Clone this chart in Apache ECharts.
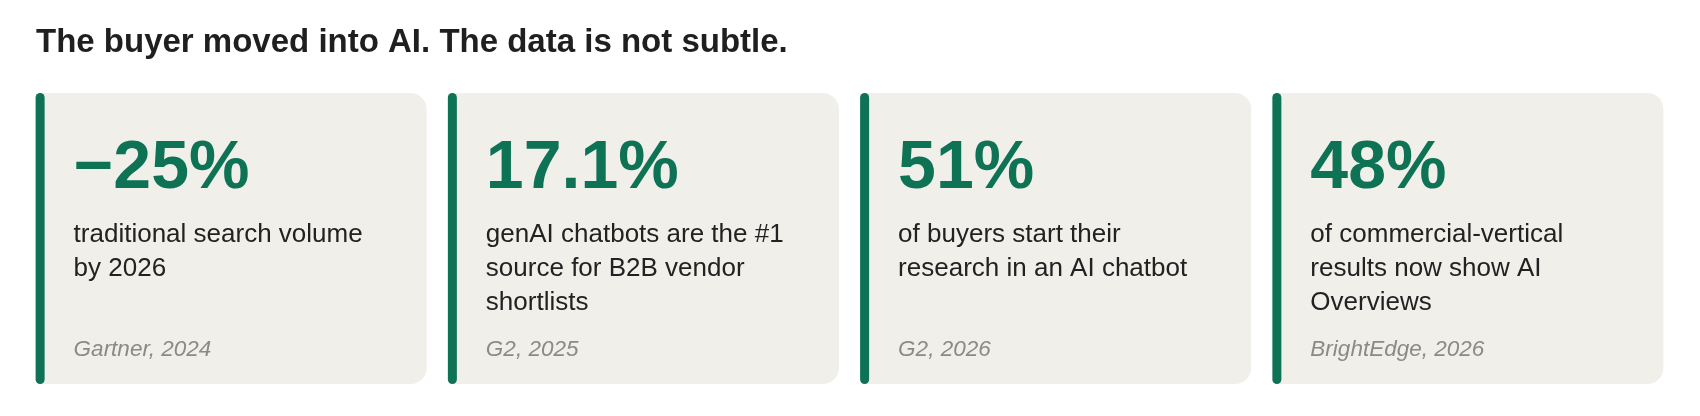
<!DOCTYPE html>
<html>
<head>
<meta charset="utf-8">
<script src="https://cdn.jsdelivr.net/npm/echarts@6/dist/echarts.min.js"></script>
<style>
  html, body { margin: 0; padding: 0; background: #ffffff; }
  #statsChart { width: 1700px; height: 416px; }
</style>
</head>
<body>
<div id="statsChart"></div>
<script>
// 数据
var cardKeys = ['gartner', 'g2-2025', 'g2-2026', 'brightedge'];
var statValues = ['\u221225%', '17.1%', '51%', '48%'];
var statLabels = [
    'traditional search volume\nby 2026',
    'genAI chatbots are the #1\nsource for B2B vendor\nshortlists',
    'of buyers start their\nresearch in an AI chatbot',
    'of commercial-vertical\nresults now show AI\nOverviews'
];
var statSources = ['Gartner, 2024', 'G2, 2025', 'G2, 2026', 'BrightEdge, 2026'];
var chartTitle = 'The buyer moved into AI. The data is not subtle.';

var GREEN = '#0e7255';
var CARD_BG = '#f0efea';
var FONT = '"Liberation Sans", Arial, Helvetica, sans-serif';

var statsChart;

function renderCard(params, api) {
    var i = api.value(0);
    var top = api.coord([i, 1]);
    var bottom = api.coord([i, 0]);
    var band = api.size([1, 0])[0];
    var w = band * 0.9485;
    var x0 = top[0] - w / 2;
    var y0 = top[1];
    var h = bottom[1] - top[1];
    var tx = x0 + 38;
    return {
        type: 'group',
        children: [
            {
                type: 'rect',
                shape: {x: x0 + 4, y: y0, width: w - 4, height: h, r: [0, 16, 16, 0]},
                style: {fill: CARD_BG}
            },
            {
                type: 'rect',
                shape: {x: x0, y: y0, width: 9, height: h, r: 4.5},
                style: {fill: GREEN}
            },
            {
                type: 'text',
                x: tx, y: y0 + 76,
                style: {
                    text: statValues[i],
                    font: 'bold 68px ' + FONT,
                    fill: GREEN,
                    verticalAlign: 'middle'
                }
            },
            {
                type: 'text',
                x: tx, y: y0 + 125,
                style: {
                    text: statLabels[i],
                    font: '26px ' + FONT,
                    lineHeight: 34,
                    fill: '#222222',
                    verticalAlign: 'top'
                }
            },
            {
                type: 'text',
                x: tx, y: y0 + 257,
                style: {
                    text: statSources[i],
                    font: 'italic 22.5px ' + FONT,
                    fill: '#8b8a85',
                    verticalAlign: 'middle'
                }
            }
        ]
    };
}

statsChart = echarts.init(document.getElementById('statsChart'));
var option = {
    animation: false,
    backgroundColor: '#ffffff',
    title: {
        text: chartTitle,
        left: 36,
        top: 26,
        padding: 0,
        textStyle: {
            fontFamily: FONT,
            fontSize: 33,
            fontWeight: 'bold',
            color: '#1f1f1f',
            lineHeight: 33
        }
    },
    grid: {left: 25, right: 26, top: 93, bottom: 32},
    xAxis: {
        type: 'category',
        data: cardKeys,
        show: false
    },
    yAxis: {
        type: 'value',
        min: 0,
        max: 1,
        show: false
    },
    series: [
        {
            type: 'custom',
            renderItem: renderCard,
            clip: false,
            data: cardKeys.map(function (k, i) { return [i, 1]; })
        }
    ]
};
statsChart.setOption(option);
</script>
</body>
</html>
